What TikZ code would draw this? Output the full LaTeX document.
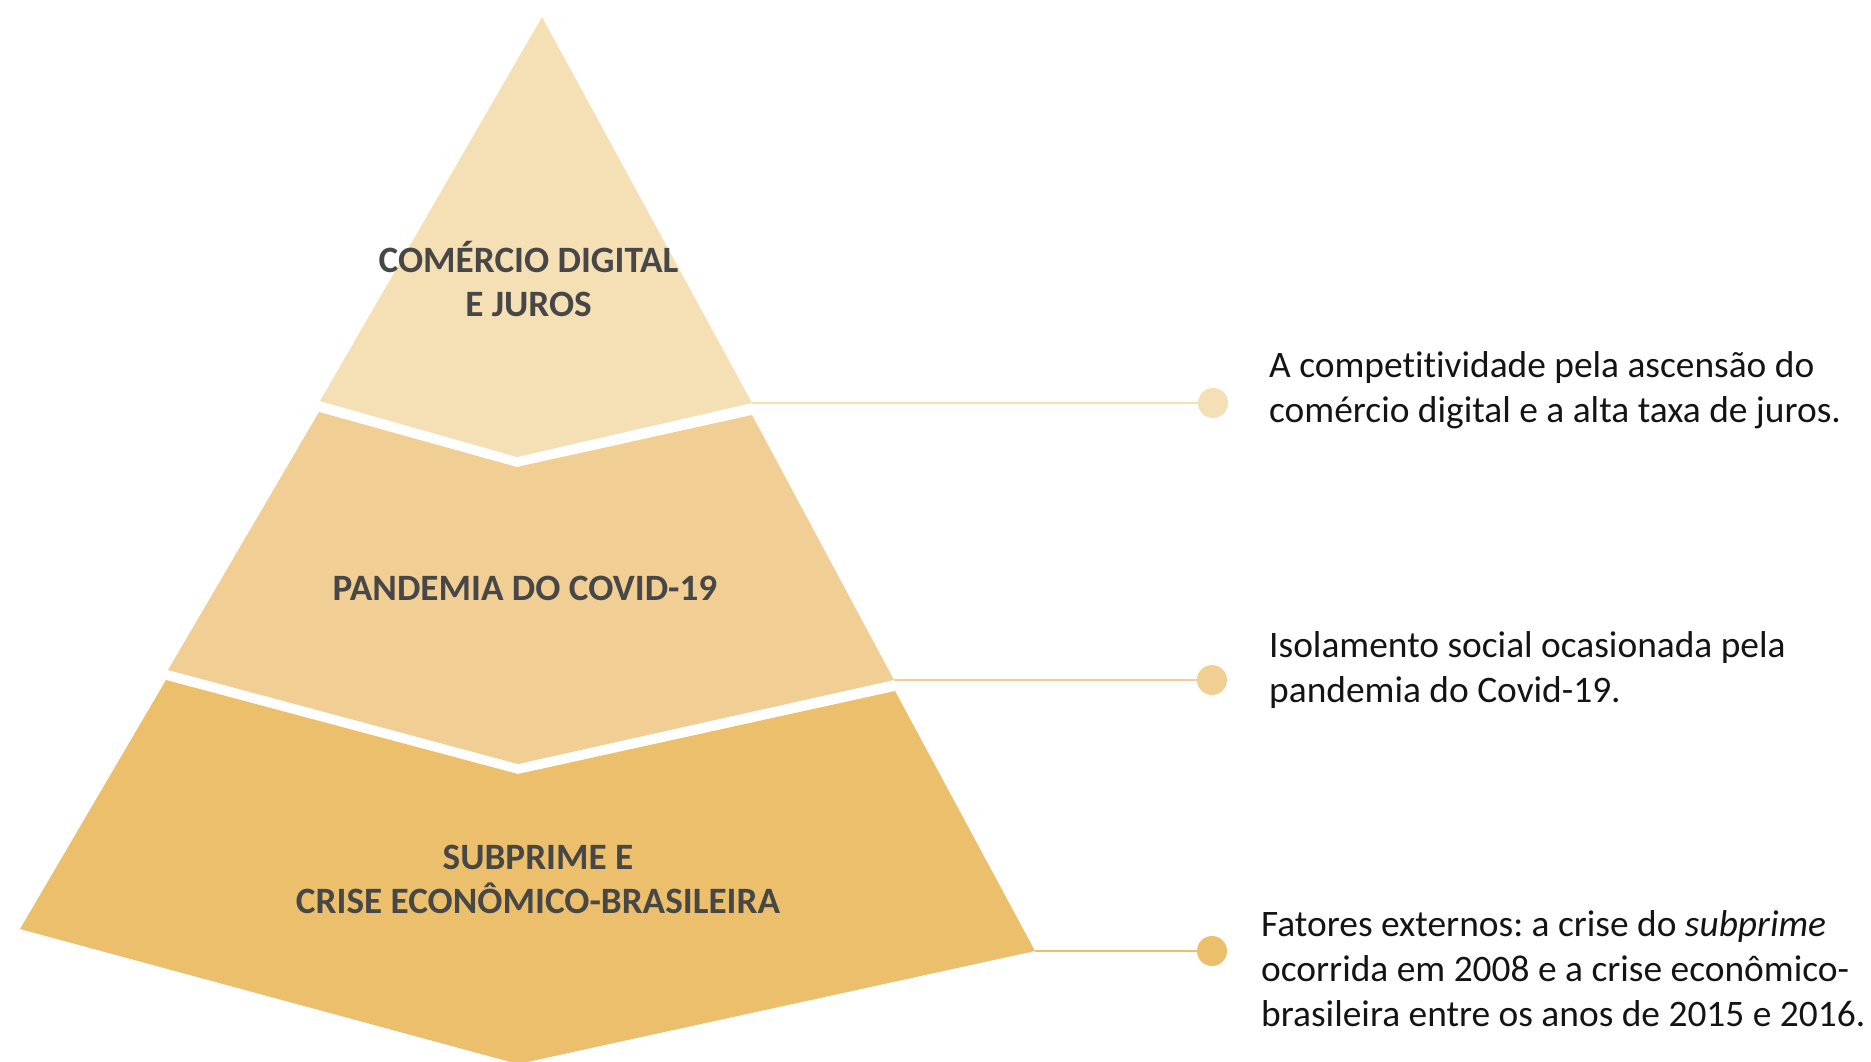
\documentclass[tikz,border=0pt]{standalone}
\usepackage{fontspec}
\setmainfont{Carlito}[Ligatures={NoCommon}]
\frenchspacing
\definecolor{bandA}{HTML}{F5DFB4}
\definecolor{bandB}{HTML}{F1CF94}
\definecolor{bandC}{HTML}{ECBF6C}
\definecolor{labelgray}{HTML}{474747}
\definecolor{bodytext}{HTML}{141414}
\tikzset{
  bandlabel/.style={font=\bfseries\fontsize{37.2}{44}\selectfont, text=labelgray, align=center, inner sep=0pt, anchor=base},
  desc/.style={font=\fontsize{37.4}{45}\selectfont, text=bodytext, align=left, inner sep=0pt, anchor=base west},
  dot/.style={circle, minimum size=30pt, inner sep=0pt, fill=#1},
  conn/.style={draw=#1, line width=1.6pt},
}
\begin{document}
\begin{tikzpicture}[x=1pt,y=-1pt]
\useasboundingbox (0,0) rectangle (1871,1061);
% band corners
\coordinate (aR) at (752,403);
\coordinate (bR) at (894,680);
\coordinate (cR) at (1035,951);
% bands
\fill[bandA] (542,17) -- (aR) -- (517,457) -- (320,401) -- cycle;
\fill[bandB] (319,412) -- (517,467) -- (752,415) -- (bR) -- (518,764) -- (168,670) -- cycle;
\fill[bandC] (166,680) -- (518,774) -- (895,691) -- (cR) -- (518,1064) -- (20,929) -- cycle;
% band labels (positioned at the baseline of the last line)
\node[bandlabel] (la) at (528.5,316) {COMÉRCIO DIGITAL\\E JUROS};
\node[bandlabel] (lb) at (525,600) {PANDEMIA DO COVID-19};
\node[bandlabel] (lc) at (538,913) {SUBPRIME E\\CRISE ECONÔMICO-BRASILEIRA};
% dots
\node[dot=bandA] (da) at (1213,403) {};
\node[dot=bandB] (db) at (1212,680) {};
\node[dot=bandC] (dc) at (1212,951) {};
% connectors
\draw[conn=bandA] (aR) -- (da);
\draw[conn=bandB] (bR) -- (db);
\draw[conn=bandC] (cR) -- (dc);
% descriptions (positioned at the baseline of the last line)
\node[desc] (ta) at (1269,422) {A competitividade pela ascensão do\\comércio digital e a alta taxa de juros.};
\node[desc] (tb) at (1269,702) {Isolamento social ocasionada pela\\pandemia do Covid-19.};
\node[desc] (tc) at (1261,1026) {Fatores externos: a crise do \textit{subprime}\\ocorrida em 2008 e a crise econômico-\\brasileira entre os anos de 2015 e 2016.};
\end{tikzpicture}
\end{document}
